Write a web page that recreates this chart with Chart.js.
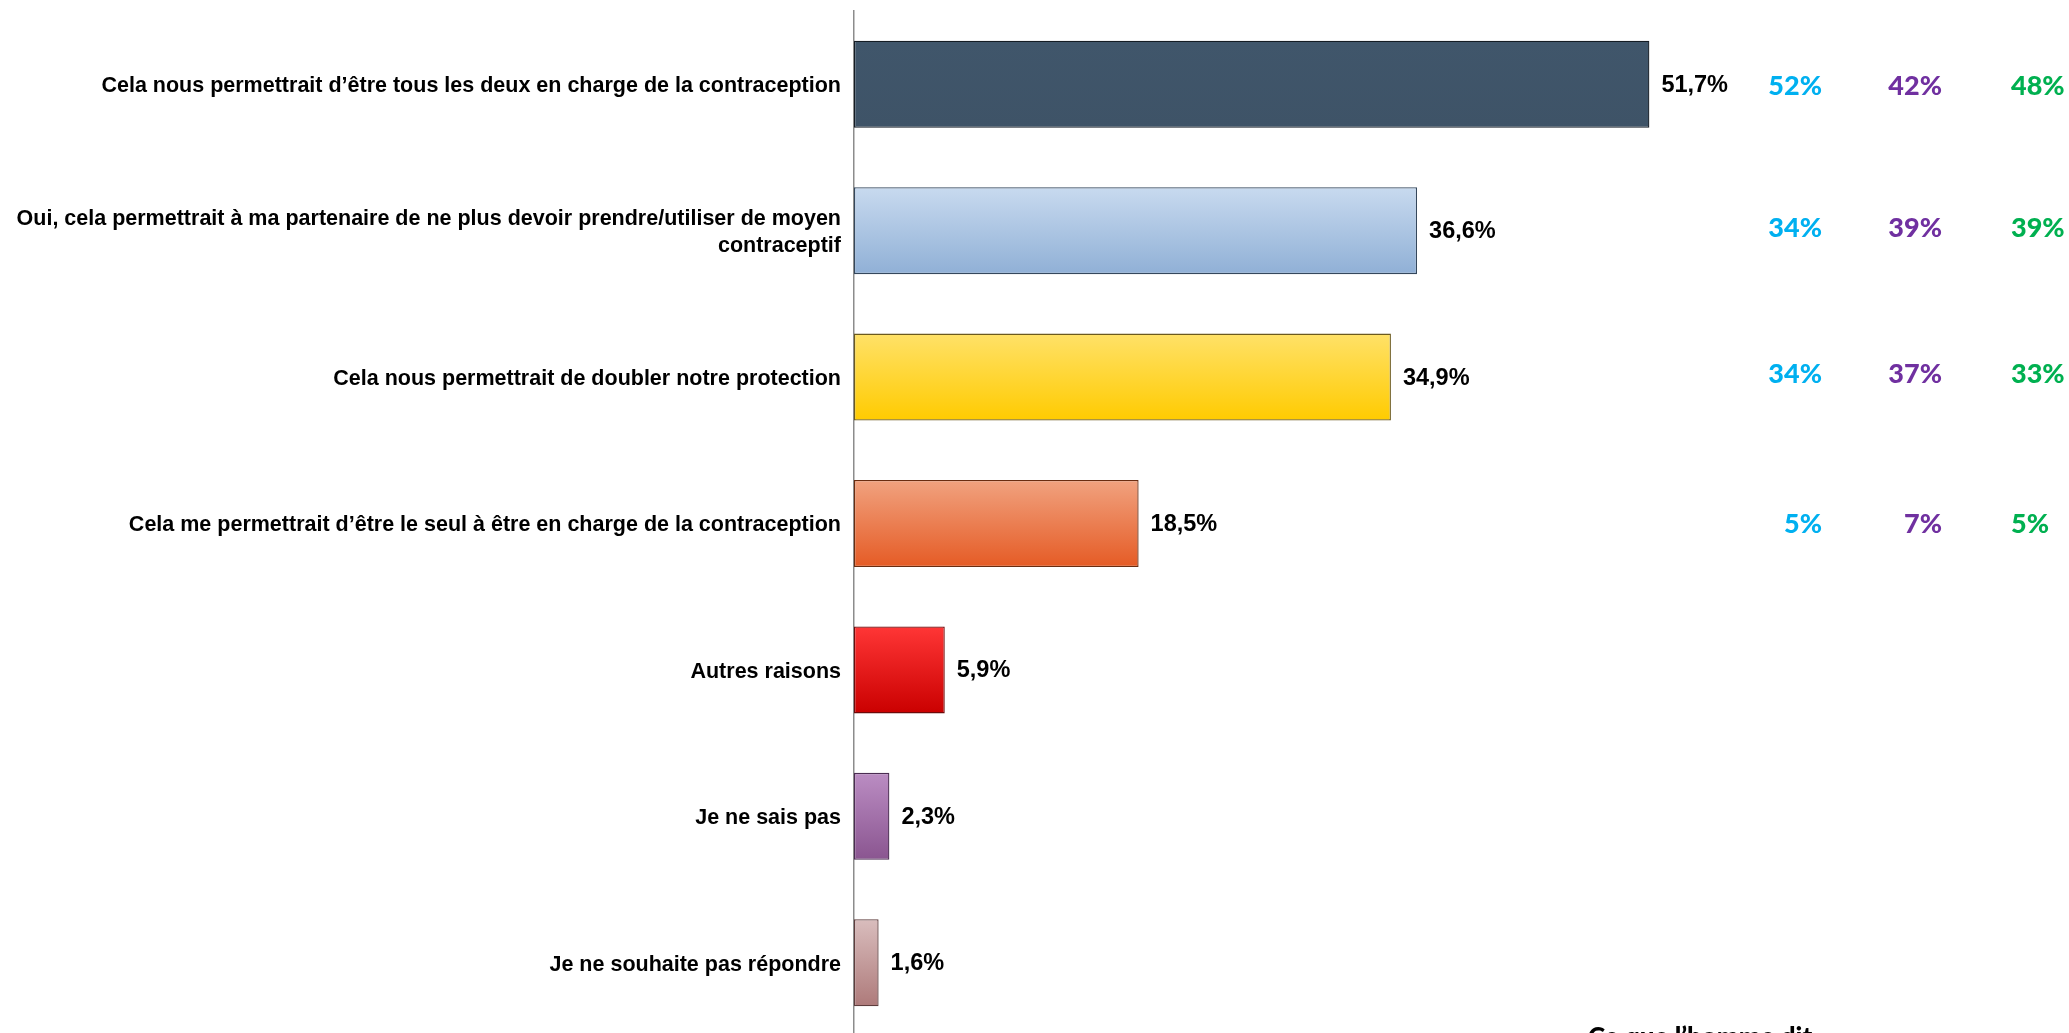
<!DOCTYPE html>
<html lang="fr">
<head>
<meta charset="utf-8">
<title>Raisons</title>
<script src="https://cdn.jsdelivr.net/npm/chart.js@4/dist/chart.umd.min.js"></script>
<style>
  html, body { margin: 0; padding: 0; background: #ffffff; overflow: hidden; }
  #wrap { width: 2069px; height: 1040px; }
</style>
</head>
<body>
<div id="wrap"><canvas id="c" width="2069" height="1040"></canvas></div>
<script>
// Catégories (libellés de l'axe vertical)
const categories = [
  "Cela nous permettrait d’être tous les deux en charge de la contraception",
  ["Oui, cela permettrait à ma partenaire de ne plus devoir prendre/utiliser de moyen", "contraceptif"],
  "Cela nous permettrait de doubler notre protection",
  "Cela me permettrait d’être le seul à être en charge de la contraception",
  "Autres raisons",
  "Je ne sais pas",
  "Je ne souhaite pas répondre"
];

// Part des répondants (%)
const values = [51.7, 36.6, 34.9, 18.5, 5.9, 2.3, 1.6];

// Colonnes de comparaison à droite
const colBlue   = [52, 34, 34, 5];
const colPurple = [42, 39, 37, 7];
const colGreen  = [48, 39, 33, 5];

const columnHeader = "Ce que l’homme dit";

// Dégradés des barres (haut, bas) et bordures
const barTop    = ["#40566B", "#C8DAEF", "#FFE168", "#F1A27F", "#FF3636", "#BB8DC3", "#D9BDBD"];
const barBottom = ["#3E5367", "#90B0D6", "#FFCB00", "#E55B25", "#CA0000", "#8A5590", "#AE7A7A"];
const barBorder = ["#141C24", "#34475C", "#6B5A1E", "#6A2C10", "#6E0A0A", "#4B2C52", "#5E3D3D"];

const labelFont = "'Liberation Sans Narrow', 'Arial Narrow', 'Liberation Sans', Arial, sans-serif";
const sideFont = "Lato, 'Open Sans', sans-serif";

const BAR_PCT = 0.594;

function gradientFor(ctx) {
  const chart = ctx.chart;
  const area = chart.chartArea;
  const i = ctx.dataIndex;
  if (!area || i === undefined) return barTop[i || 0];
  const ys = chart.scales.y;
  const step = Math.abs(ys.getPixelForValue(1) - ys.getPixelForValue(0));
  const cy = ys.getPixelForValue(i);
  const h = step * BAR_PCT / 2;
  const g = chart.ctx.createLinearGradient(0, cy - h, 0, cy + h);
  g.addColorStop(0, barTop[i]);
  g.addColorStop(1, barBottom[i]);
  return g;
}

// Étiquettes de valeur, colonnes de droite et en-tête
const annotations = {
  id: "annotations",
  afterDatasetsDraw(chart) {
    const c = chart.ctx;
    const meta = chart.getDatasetMeta(0);
    c.save();
    c.fillStyle = "#000";
    c.font = "bold 23.5px " + labelFont;
    c.textAlign = "left";
    c.textBaseline = "middle";
    meta.data.forEach((bar, i) => {
      const txt = values[i].toFixed(1).replace(".", ",") + "%";
      c.fillText(txt, bar.x + 12, bar.y + 1);
    });

    const ys = chart.scales.y;
    c.font = "900 27px " + sideFont;
    const rowShift = [2, -2, -3, 1];
    const drawCol = (arr, color, x, align) => {
      c.fillStyle = color;
      c.textAlign = align;
      arr.forEach((v, i) => {
        if (v === null || v === undefined) return;
        c.fillText(v + "%", x, ys.getPixelForValue(i) + rowShift[i]);
      });
    };
    drawCol(colBlue, "#00B0F0", 1822, "right");
    drawCol(colPurple, "#7030A0", 1942, "right");
    drawCol(colGreen, "#00B050", 2011, "left");

    c.fillStyle = "#000";
    c.textAlign = "left";
    c.textBaseline = "alphabetic";
    c.font = "900 26px " + sideFont;
    c.fillText(columnHeader, 1588, 1046);
    c.restore();
  }
};

new Chart(document.getElementById("c"), {
  type: "bar",
  data: {
    labels: categories,
    datasets: [{
      data: values,
      backgroundColor: gradientFor,
      borderColor: barBorder,
      borderWidth: 1.3,
      borderSkipped: false,
      barPercentage: BAR_PCT,
      categoryPercentage: 1.0
    }]
  },
  options: {
    indexAxis: "y",
    responsive: false,
    animation: false,
    events: [],
    layout: { padding: { top: 11, bottom: 4, left: 0, right: 15 } },
    plugins: { legend: { display: false }, tooltip: { enabled: false }, title: { display: false } },
    scales: {
      x: {
        display: false,
        min: 0,
        max: 78
      },
      y: {
        afterFit(scale) {
          scale.width = 854;
          scale.paddingTop = 0;
          scale.paddingBottom = 0;
        },
        grid: { display: false, drawTicks: false },
        border: { display: true, color: "#8C8C8C", width: 1.5 },
        ticks: {
          color: "#000",
          padding: 13,
          labelOffset: 2,
          font: { family: labelFont, size: 21.5, weight: "bold", lineHeight: 1.25 }
        }
      }
    }
  },
  plugins: [annotations]
});
</script>
</body>
</html>
